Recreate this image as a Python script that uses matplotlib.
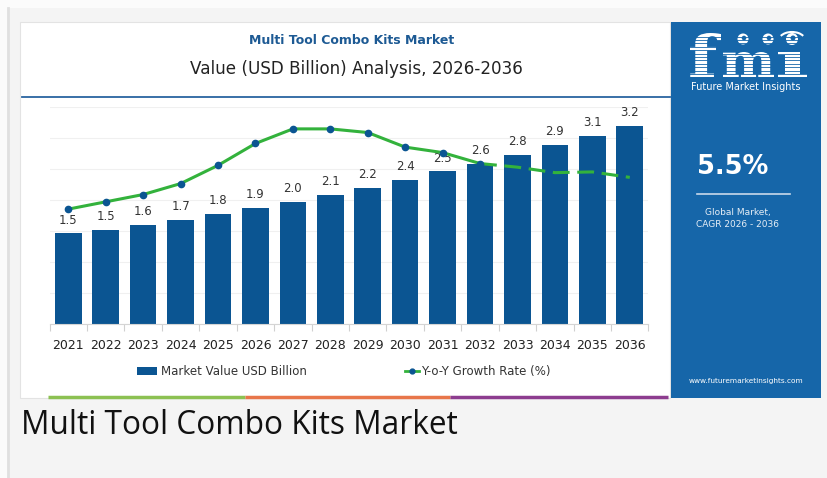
import numpy as np
import matplotlib.pyplot as plt
from matplotlib.patches import Rectangle, Circle, PathPatch, Arc
from matplotlib.textpath import TextPath
from matplotlib.font_manager import FontProperties
from matplotlib.lines import Line2D
from matplotlib.transforms import Affine2D

years = ['2021', '2022', '2023', '2024', '2025', '2026', '2027', '2028',
         '2029', '2030', '2031', '2032', '2033', '2034', '2035', '2036']
market_value = [1.46, 1.52, 1.60, 1.68, 1.77, 1.87, 1.97, 2.08,
                2.19, 2.33, 2.46, 2.58, 2.73, 2.88, 3.04, 3.20]
value_labels = ['1.5', '1.5', '1.6', '1.7', '1.8', '1.9', '2.0', '2.1',
                '2.2', '2.4', '2.5', '2.6', '2.8', '2.9', '3.1', '3.2']
growth_rate = [4.2, 4.4, 4.6, 4.9, 5.4, 6.0, 6.4, 6.4,
               6.3, 5.9, 5.75, 5.45, 5.35, 5.2, 5.22, 5.07]
n_actual = 12  # solid line up to 2032, dashed after

W, H = 827, 478
navy = '#0b5592'
green = '#33b23c'
panel = '#1666a9'

fig = plt.figure(figsize=(W / 100, H / 100), dpi=100)
fig.patch.set_facecolor('#fbfbfb')

# background layer in pixel coordinates
bg = fig.add_axes([0, 0, 1, 1], zorder=-10)
bg.set_xlim(0, W)
bg.set_ylim(H, 0)
bg.axis('off')
bg.add_patch(Rectangle((7, 8), W - 7, H - 8, fc='#f4f4f4', ec='none'))
bg.plot([7.5, 7.5], [8, H], color='#e0e0e0', lw=2)
bg.add_patch(Rectangle((20, 22), 650, 376, fc='white', ec='#e3e3e3', lw=0.8))
bg.add_patch(Rectangle((671, 22), 150, 376, fc=panel, ec='none'))

bg.text(352, 40, 'Multi Tool Combo Kits Market', ha='center', va='center',
        fontsize=9, fontweight='bold', color='#1d5a94')
bg.text(356, 69, 'Value (USD Billion) Analysis, 2026-2036', ha='center',
        va='center', fontsize=12.1, color='#222222')
bg.plot([22, 670], [96.5, 96.5], color='#2a64a0', lw=1.3)

# coloured strip at the bottom of the card
bg.plot([48, 245], [396.5, 396.5], color='#8cc152', lw=2.5, solid_capstyle='butt')
bg.plot([245, 450], [396.5, 396.5], color='#e8764a', lw=2.5, solid_capstyle='butt')
bg.plot([450, 668], [396.5, 396.5], color='#8d3d8f', lw=2.5, solid_capstyle='butt')

# fmi logo, one letter at a time
logo_font = FontProperties(family='DejaVu Serif', weight='bold')
for ch, (x0, x1, y0, y1) in [('f', (690, 721, 33, 77)),
                             ('m', (723, 774, 52, 77)),
                             ('\u0131', (778, 807, 52, 77))]:
    tp = TextPath((0, 0), ch, size=50, prop=logo_font)
    bb = tp.get_extents()
    tr = (Affine2D().translate(-bb.x0, -bb.y0)
          .scale((x1 - x0) / bb.width, -(y1 - y0) / bb.height)
          .translate(x0, y1))
    bg.add_patch(PathPatch(tr.transform_path(tp), fc='white', ec='none'))
for yy in np.arange(36.5, 78, 3.4):
    bg.plot([686, 810], [yy, yy], color=panel, lw=0.6)
for cx in [743, 768]:
    bg.add_patch(Circle((cx, 39), 5.5, fc='white', ec='none'))
    bg.add_patch(Circle((cx + 1, 38), 2.3, fc=panel, ec='none'))
bg.add_patch(Circle((792, 39), 6, fc='white', ec='none'))
bg.add_patch(Circle((793, 38), 2.5, fc=panel, ec='none'))
bg.add_patch(Arc((792, 40), 26, 16, theta1=200, theta2=340, color='white', lw=1.5))
bg.text(746, 87, 'Future Market Insights', ha='center', va='center',
        fontsize=7, color='white')
bg.text(733, 166.5, '5.5%', ha='center', va='center', fontsize=18.5,
        fontweight='bold', color='white')
bg.plot([697, 790], [193.5, 193.5], color='#c9d9ea', lw=1.2)
bg.text(738, 212.5, 'Global Market,', ha='center', va='center',
        fontsize=6.5, color='#e6eef6')
bg.text(738, 224, 'CAGR 2026 - 2036', ha='center', va='center',
        fontsize=6.5, color='#e6eef6')
bg.text(746, 381, 'www.futuremarketinsights.com', ha='center', va='center',
        fontsize=5.3, color='white')

bg.text(21, 425, 'Multi Tool Combo Kits Market', ha='left', va='center',
        fontsize=22.8, family='Open Sans', color='#111111')

# main chart
ax = fig.add_axes([49.6 / W, 1 - 324 / H, 598.9 / W, 217 / H])
x = np.arange(len(years))
ax.bar(x, market_value, width=0.71, color=navy, zorder=2)
ax.set_xlim(-0.5, 15.5)
ax.set_ylim(0, 3.5)
ax.set_yticks(np.arange(0, 3.51, 0.5))
ax.yaxis.grid(True, color='#f0f0f0', lw=0.8)
ax.set_axisbelow(True)
ax.tick_params(axis='y', length=0, labelleft=False)
ax.set_xticks(x, years)
ax.set_xticks(np.arange(-0.5, 15.6, 1), minor=True)
ax.tick_params(axis='x', which='major', length=0, pad=11, labelsize=9,
               labelcolor='#222222')
ax.tick_params(axis='x', which='minor', length=5, color='#d0d0d0', width=0.8)
for s in ['top', 'right', 'left']:
    ax.spines[s].set_visible(False)
ax.spines['bottom'].set_color('#d5d5d5')
for xi, v, lab in zip(x, market_value, value_labels):
    ax.annotate(lab, (xi, v), xytext=(0, 5), textcoords='offset points',
                ha='center', va='bottom', fontsize=8.5, color='#333333')

ax2 = ax.twinx()
ax2.set_ylim(1.05, 7.0)
ax2.axis('off')
ax2.plot(x[:n_actual], growth_rate[:n_actual], color=green, lw=2.2,
         marker='o', ms=4.5, mfc=navy, mec=navy, zorder=3)
ax2.plot(x[n_actual - 1:], growth_rate[n_actual - 1:], color=green, lw=2.2,
         ls=(0, (5.5, 2.5)), zorder=2)

# legend
h1 = Rectangle((0, 0), 1, 1, fc=navy)
h2 = Line2D([], [], color=green, lw=2, marker='o', ms=3.5, mfc=navy, mec=navy)
fig.legend([h1], ['Market Value USD Billion'], loc='center left',
           bbox_to_anchor=(137 / W, 1 - 371.5 / H), frameon=False,
           fontsize=8.5, handlelength=1.7, handleheight=0.6,
           handletextpad=0.35, borderpad=0, borderaxespad=0,
           labelcolor='#333333')
fig.legend([h2], ['Y-o-Y Growth Rate (%)'], loc='center left',
           bbox_to_anchor=(405 / W, 1 - 371.5 / H), frameon=False,
           fontsize=8.5, handlelength=1.2, handletextpad=0.2,
           borderpad=0, borderaxespad=0, labelcolor='#333333')

fig.savefig('out.png', dpi=100, facecolor=fig.get_facecolor())
